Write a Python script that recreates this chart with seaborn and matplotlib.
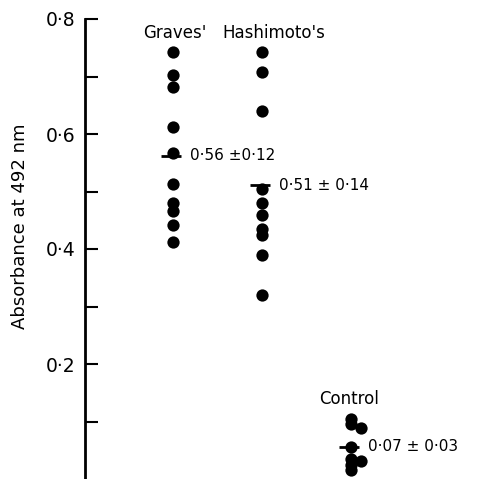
import matplotlib
matplotlib.use("Agg")
import matplotlib.pyplot as plt
import seaborn as sns
import numpy as np
import pandas as pd

groups = ["Graves'", "Hashimoto's", "Control"]
graves = [0.743, 0.703, 0.682, 0.613, 0.567, 0.513, 0.480, 0.466, 0.441, 0.413]
hashimoto = [0.743, 0.708, 0.640, 0.505, 0.480, 0.460, 0.435, 0.425, 0.390, 0.320]
control = [0.105, 0.095, 0.089, 0.056, 0.035, 0.031, 0.024, 0.016]
control_side = [0, 0, 1, 0, 0, 1, 0, 0]
mean_labels = ["0·56 ±0·12", "0·51 ± 0·14", "0·07 ± 0·03"]
yticks = [0.1, 0.2, 0.3, 0.4, 0.5, 0.6, 0.7, 0.8]
ytick_labels = ["", "0·2", "", "0·4", "", "0·6", "", "0·8"]

sns.set_style("white")
plt.rcParams['font.family'] = ['DejaVu Sans']
plt.rcParams['text.color'] = 'black'
plt.rcParams['axes.labelcolor'] = 'black'
plt.rcParams['ytick.color'] = 'black'
plt.rcParams['xtick.color'] = 'black'

rows = []
for gi, vals in enumerate([graves, hashimoto, control]):
    for k, v in enumerate(vals):
        side = control_side[k] if gi == 2 else 0
        rows.append({"pos": gi + 0.11 * side, "value": v, "group": groups[gi]})
df = pd.DataFrame(rows)

fig = plt.figure(figsize=(4.8, 4.79), dpi=100)
ax = fig.add_axes([85 / 480, 0.0, 395 / 480, 460 / 479])

sns.scatterplot(data=df, x="pos", y="value", color="black", s=78,
                edgecolor="black", linewidth=0, ax=ax, legend=False, zorder=3)

for gi, vals in enumerate([graves, hashimoto, control]):
    m = float(np.mean(vals))
    ax.plot([gi - 0.14, gi + 0.09], [m, m], color="black", lw=2.0, zorder=4,
            solid_capstyle="butt")
    ax.text(gi + 0.19, m, mean_labels[gi], fontsize=11, va="center", ha="left",
            color="black")

label_y = [0.775, 0.775, 0.139]
label_dx = [0.02, 0.13, -0.02]
for gi, g in enumerate(groups):
    ax.text(gi + label_dx[gi], label_y[gi], g, fontsize=12, ha="center",
            va="center", color="black")

ax.set_xlim(-0.989, 3.45)
ax.set_ylim(0, 0.8)
ax.set_xticks([])
ax.set_yticks(yticks)
ax.set_yticklabels(ytick_labels, fontsize=13.5)
ax.tick_params(axis="y", direction="in", length=9, width=1.5, pad=7, left=True,
               colors="black")
for s in ["top", "right", "bottom"]:
    ax.spines[s].set_visible(False)
ax.spines["left"].set_linewidth(2)
ax.spines["left"].set_color("black")
ax.set_xlabel("")
ax.set_ylabel("Absorbance at 492 nm", fontsize=13, va="center")
ax.yaxis.set_label_coords(-(85 - 20) / 395, (479 - 226) / 460)
ax.patch.set_alpha(0)

fig.savefig("out.png", dpi=100)
